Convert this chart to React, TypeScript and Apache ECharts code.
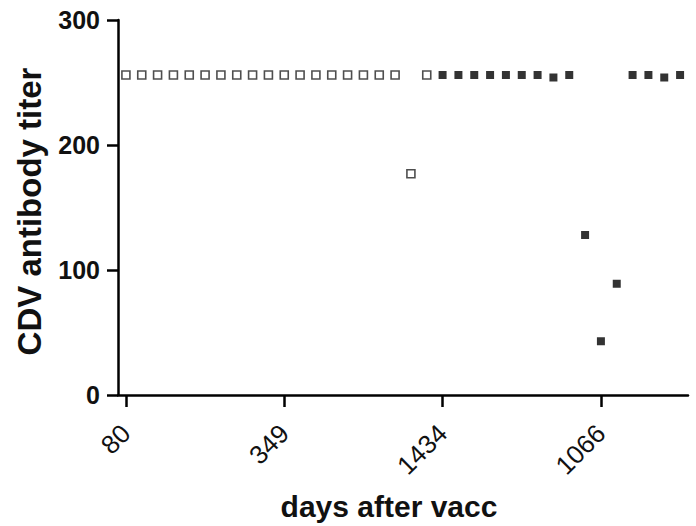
import React, { useEffect, useRef } from "react";
import * as echarts from "echarts";

// x categories (one per sample); only some carry a day label
const xCategories: string[] = [
  "80", "", "", "", "", "", "", "", "", "",
  "349", "", "", "", "", "", "", "", "", "",
  "1434", "", "", "", "", "", "", "", "", "",
  "1066", "", "", "", "", "",
];

// open squares (first group)
const openValues: (number | null)[] = [
  256, 256, 256, 256, 256, 256, 256, 256, 256, 256,
  256, 256, 256, 256, 256, 256, 256, 256, 177, 256,
  null, null, null, null, null, null, null, null, null, null,
  null, null, null, null, null, null,
];

// filled squares (second group)
const filledValues: (number | null)[] = [
  null, null, null, null, null, null, null, null, null, null,
  null, null, null, null, null, null, null, null, null, null,
  256, 256, 256, 256, 256, 256, 256, 254, 256, 128,
  43, 89, 256, 256, 254, 256,
];

const yTicks = [0, 100, 200, 300];

export default function App() {
  const ref = useRef<HTMLDivElement>(null);
  useEffect(() => {
    if (!ref.current) return;
    const chart = echarts.init(ref.current, undefined, { renderer: "svg" });
    const font = "'Liberation Sans', Arial, Helvetica, sans-serif";
    chart.setOption({
      animation: false,
      backgroundColor: "#ffffff",
      grid: { left: 118, right: 8, top: 20, bottom: 130 },
      xAxis: {
        type: "category",
        data: xCategories,
        boundaryGap: true,
        name: "days after vacc",
        nameLocation: "middle",
        nameGap: 96,
        nameTextStyle: {
          fontFamily: font,
          fontWeight: "bold",
          fontSize: 30,
          color: "#111",
          padding: [0, 28, 0, 0],
        },
        axisLine: { lineStyle: { color: "#000", width: 2.5 } },
        axisTick: {
          show: true,
          alignWithLabel: true,
          length: 12,
          interval: (i: number) => xCategories[i] !== "",
          lineStyle: { color: "#000", width: 2.5 },
        },
        axisLabel: {
          interval: 0,
          rotate: 45,
          margin: 34,
          fontFamily: font,
          fontSize: 26,
          color: "#111",
        },
        splitLine: { show: false },
      },
      yAxis: {
        type: "value",
        min: yTicks[0],
        max: yTicks[yTicks.length - 1],
        interval: 100,
        name: "CDV antibody titer",
        nameLocation: "middle",
        nameGap: 72,
        nameTextStyle: {
          fontFamily: font,
          fontWeight: "bold",
          fontSize: 33,
          color: "#111",
          padding: [0, 8, 0, 0],
        },
        axisLine: { show: true, lineStyle: { color: "#000", width: 2.5 } },
        axisTick: { show: true, length: 11, lineStyle: { color: "#000", width: 2.5 } },
        axisLabel: {
          margin: 18,
          fontFamily: font,
          fontWeight: "bold",
          fontSize: 25,
          color: "#111",
        },
        splitLine: { show: false },
      },
      series: [
        {
          type: "scatter",
          data: openValues,
          symbol: "rect",
          symbolSize: 8,
          itemStyle: { color: "#ffffff", borderColor: "#222", borderWidth: 1.6 },
        },
        {
          type: "scatter",
          data: filledValues,
          symbol: "rect",
          symbolSize: 8,
          itemStyle: { color: "#000000" },
        },
      ],
    });
    return () => chart.dispose();
  }, []);
  return <div ref={ref} style={{ width: 696, height: 526, position: "absolute", left: 0, top: 0 }} />;
}
